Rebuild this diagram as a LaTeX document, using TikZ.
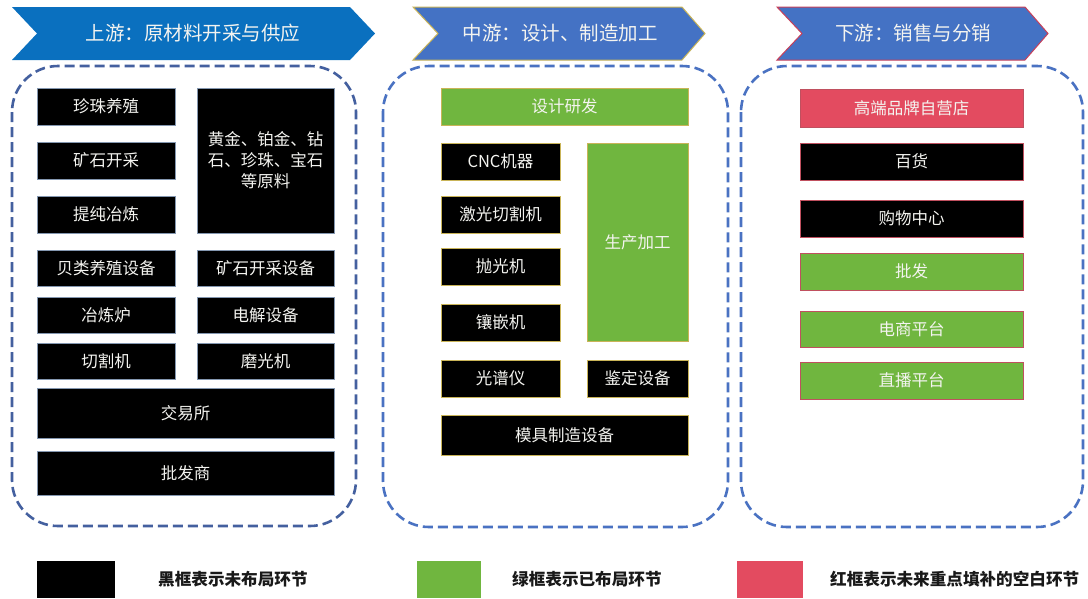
\documentclass[tikz,border=0pt]{standalone}
\usepackage{fontspec}
\newfontfamily\cjk{Noto Sans CJK SC}
\definecolor{hdrA}{HTML}{0A70BF}
\definecolor{hdrB}{HTML}{4472C4}
\definecolor{gold}{HTML}{C9B458}
\definecolor{crim}{HTML}{C8405A}
\definecolor{dashA}{HTML}{44609F}
\definecolor{dashB}{HTML}{4A72C2}
\definecolor{slate}{HTML}{8497B0}
\definecolor{grn}{HTML}{70B63F}
\definecolor{redf}{HTML}{E34B60}
\definecolor{redb}{HTML}{C0505F}
\definecolor{txtw}{HTML}{F4F4F0}
\tikzset{
  box/.style={draw, line width=0.9pt, text=txtw, inner sep=0pt, align=center,
    font=\cjk\fontsize{16.5}{21}\selectfont},
  lbox/.style={box, fill=black, draw=slate},
  mbox/.style={box, fill=black, draw=gold},
  mgbox/.style={box, fill=grn, draw=gold},
  rbox/.style={box, fill=black, draw=redb},
  rgbox/.style={box, fill=grn, draw=redb},
  rrbox/.style={box, fill=redf, draw=redb},
  hdrtext/.style={text=txtw, font=\cjk\fontsize{19.5}{22}\selectfont, inner sep=0pt},
  zone/.style={dashed, dash pattern=on 10pt off 5pt, line width=2.6pt, rounded corners=46pt},
  legbox/.style={inner sep=0pt, anchor=north west},
  legtext/.style={anchor=west, inner sep=0pt, text=black!90, font=\cjk\bfseries\fontsize{16.6}{20}\selectfont}
}
\begin{document}
\begin{tikzpicture}[x=1pt,y=-1pt]
\useasboundingbox[fill=white] (0,0) rectangle (1088,598);

% headers
\fill[hdrA] (12,7) -- (350,7) -- (375,33.5) -- (350,60) -- (12,60) -- (37,33.5) -- cycle;
\node[hdrtext] (h1) at (193,33.5) {上游：原材料开采与供应};
\draw[fill=hdrB, draw=gold, line width=1pt] (413,7) -- (682,7) -- (705,33.5) -- (682,60) -- (413,60) -- (438,33.5) -- cycle;
\node[hdrtext] (h2) at (560,33.5) {中游：设计、制造加工};
\draw[fill=hdrB, draw=crim, line width=1pt] (777,7) -- (1025,7) -- (1048,33.5) -- (1025,60) -- (777,60) -- (802,33.5) -- cycle;
\node[hdrtext] (h3) at (913,33.5) {下游：销售与分销};

% zones
\draw[zone, draw=dashA] (12,66) rectangle (356,526);
\draw[zone, draw=dashB] (383,66) rectangle (728,527);
\draw[zone, draw=dashB] (741,66) rectangle (1083,527);

% upstream
\node[lbox, minimum width=138pt, minimum height=37pt] (u1) at (106,106.5) {珍珠养殖};
\node[lbox, minimum width=137pt, minimum height=145pt] (u2) at (265.5,160.5) {黄金、铂金、钻\\石、珍珠、宝石\\等原料};
\node[lbox, minimum width=138pt, minimum height=37pt] (u3) at (106,160.5) {矿石开采};
\node[lbox, minimum width=138pt, minimum height=37pt] (u4) at (106,214.5) {提纯冶炼};
\node[lbox, minimum width=138pt, minimum height=36pt] (u5) at (106,268) {贝类养殖设备};
\node[lbox, minimum width=137pt, minimum height=36pt] (u6) at (265.5,268) {矿石开采设备};
\node[lbox, minimum width=138pt, minimum height=36pt] (u7) at (106,315) {冶炼炉};
\node[lbox, minimum width=137pt, minimum height=36pt] (u8) at (265.5,315) {电解设备};
\node[lbox, minimum width=138pt, minimum height=36pt] (u9) at (106,361) {切割机};
\node[lbox, minimum width=137pt, minimum height=36pt] (u10) at (265.5,361) {磨光机};
\node[lbox, minimum width=297pt, minimum height=50pt] (u11) at (185.5,413) {交易所};
\node[lbox, minimum width=297pt, minimum height=44pt] (u12) at (185.5,473) {批发商};

% midstream
\node[mgbox, minimum width=247pt, minimum height=37pt] (m1) at (564.5,106.5) {设计研发};
\node[mbox, minimum width=119pt, minimum height=37pt] (m2) at (500.5,161.5) {CNC机器};
\node[mbox, minimum width=119pt, minimum height=37pt] (m3) at (500.5,214.5) {激光切割机};
\node[mbox, minimum width=119pt, minimum height=37pt] (m4) at (500.5,266.5) {抛光机};
\node[mbox, minimum width=119pt, minimum height=37pt] (m5) at (500.5,322.5) {镶嵌机};
\node[mgbox, minimum width=101pt, minimum height=198pt] (m6) at (637.5,242) {生产加工};
\node[mbox, minimum width=119pt, minimum height=37pt] (m7) at (500.5,378.5) {光谱仪};
\node[mbox, minimum width=101pt, minimum height=37pt] (m8) at (637.5,378.5) {鉴定设备};
\node[mbox, minimum width=247pt, minimum height=40pt] (m9) at (564.5,435) {模具制造设备};

% downstream
\node[rrbox, minimum width=223pt, minimum height=38pt] (d1) at (911.5,108) {高端品牌自营店};
\node[rbox, minimum width=223pt, minimum height=37pt] (d2) at (911.5,161.5) {百货};
\node[rbox, minimum width=223pt, minimum height=37pt] (d3) at (911.5,218.5) {购物中心};
\node[rgbox, minimum width=223pt, minimum height=37pt] (d4) at (911.5,271.5) {批发};
\node[rgbox, minimum width=223pt, minimum height=36pt] (d5) at (911.5,329) {电商平台};
\node[rgbox, minimum width=223pt, minimum height=37pt] (d6) at (911.5,380.5) {直播平台};

% legend
\node[legbox, fill=black, minimum width=78pt, minimum height=37pt] (lk) at (37,561) {};
\node[legtext] (lkt) at (158,579) {黑框表示未布局环节};
\node[legbox, fill=grn, minimum width=64pt, minimum height=37pt] (lg) at (417,561) {};
\node[legtext] (lgt) at (512,579) {绿框表示已布局环节};
\node[legbox, fill=redf, minimum width=66pt, minimum height=37pt] (lr) at (737,561) {};
\node[legtext] (lrt) at (830,579) {红框表示未来重点填补的空白环节};
\end{tikzpicture}
\end{document}
